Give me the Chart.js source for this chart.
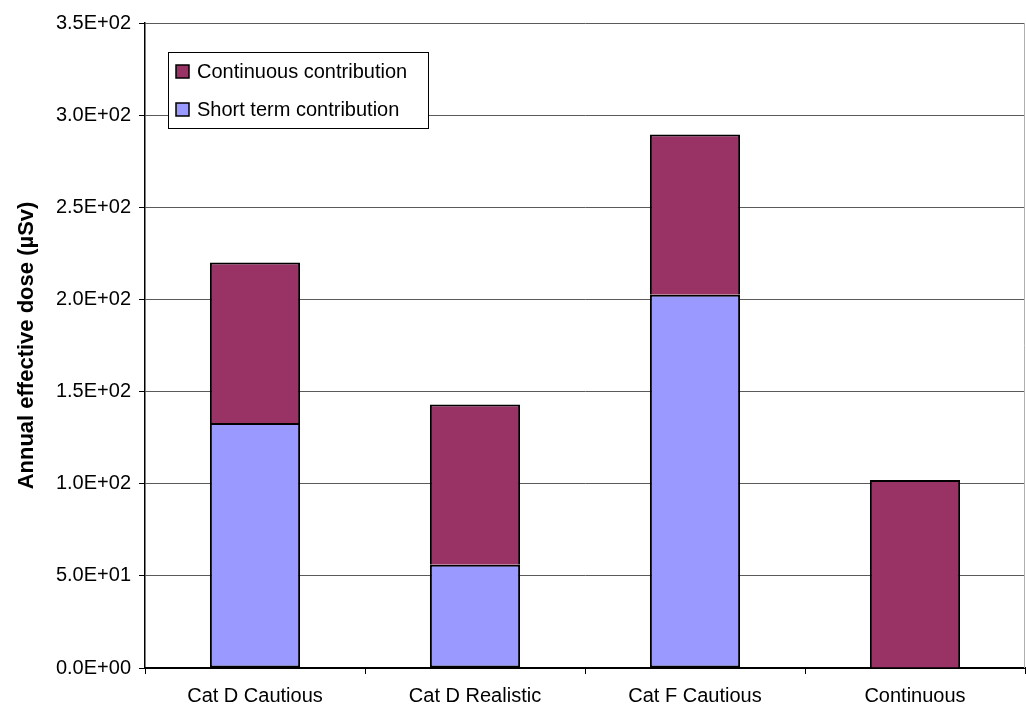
<!DOCTYPE html>
<html>
<head>
<meta charset="utf-8">
<script src="https://cdn.jsdelivr.net/npm/chart.js@4/dist/chart.umd.min.js"></script>
<style>
  html, body { margin: 0; padding: 0; background: #fff; }
  #wrap { width: 1026px; height: 714px; position: relative; }
</style>
</head>
<body>
<div id="wrap"><canvas id="doseChart"></canvas></div>
<script>
const categories = ["Cat D Cautious", "Cat D Realistic", "Cat F Cautious", "Continuous"];
const shortTerm = [133, 56, 202.5, null];
const continuousPart = [87, 87, 87, 102];
const yTicksMax = 350;
const yTickStep = 50;

// Excel style 3.5E+02
function sciLabel(v) {
  const parts = Number(v).toExponential(1).split("e");
  const n = parseInt(parts[1]);
  return parts[0] + "E" + (n < 0 ? "-" : "+") + String(Math.abs(n)).padStart(2, "0");
}

const boxLegend = {
  id: "boxLegend",
  afterDraw(chart) {
    const ctx = chart.ctx;
    const area = chart.chartArea;

    // faint right border of the plot area
    ctx.save();
    ctx.strokeStyle = "#b0b0b0";
    ctx.lineWidth = 1;
    ctx.beginPath();
    ctx.moveTo(area.right - 0.5, area.top);
    ctx.lineTo(area.right - 0.5, area.bottom);
    ctx.stroke();

    const x = area.left + 23;
    const y = area.top + 29;
    ctx.fillStyle = "#fff";
    ctx.fillRect(x, y, 260, 76);
    ctx.strokeStyle = "#000";
    ctx.strokeRect(x + 0.5, y + 0.5, 260, 76);

    const items = [chart.data.datasets[1], chart.data.datasets[0]];
    ctx.font = "20px 'Liberation Sans', Arial, sans-serif";
    ctx.textBaseline = "middle";
    items.forEach((ds, i) => {
      const cy = y + 19 + i * 38;
      ctx.fillStyle = ds.backgroundColor;
      ctx.fillRect(x + 8, cy - 6, 13, 13);
      ctx.strokeStyle = "#000";
      ctx.lineWidth = 1.5;
      ctx.strokeRect(x + 8, cy - 6, 13, 13);
      ctx.fillStyle = "#000";
      ctx.fillText(ds.label, x + 29, cy + 1);
    });
    ctx.restore();
  }
};

const ctx = document.getElementById("doseChart").getContext("2d");
new Chart(ctx, {
  type: "bar",
  data: {
    labels: categories,
    datasets: [
      {
        label: "Short term contribution",
        data: shortTerm,
        backgroundColor: "#9999FF",
        borderColor: "#000",
        borderWidth: 2,
        borderSkipped: false,
        categoryPercentage: 1,
        barPercentage: 0.41,
      },
      {
        label: "Continuous contribution",
        data: continuousPart,
        backgroundColor: "#993366",
        borderColor: "#000",
        borderWidth: 2,
        borderSkipped: "bottom",
        categoryPercentage: 1,
        barPercentage: 0.41,
      },
    ],
  },
  options: {
    responsive: true,
    maintainAspectRatio: false,
    animation: false,
    layout: { padding: { left: 0, right: 1, top: 23, bottom: 0 } },
    plugins: {
      legend: { display: false },
      tooltip: { enabled: false },
    },
    scales: {
      x: {
        stacked: true,
        grid: {
          drawOnChartArea: false,
          drawTicks: true,
          tickLength: 6,
          color: "#000",
        },
        border: { color: "#000", width: 2 },
        ticks: {
          color: "#000",
          padding: 10,
          font: { family: "'Liberation Sans', Arial, sans-serif", size: 20 },
        },
        afterFit(scale) { scale.height = 46; },
      },
      y: {
        stacked: true,
        min: 0,
        max: yTicksMax,
        grid: {
          color: "#5a5a5a",
          lineWidth: 1,
          tickLength: 6,
          tickColor: "#000",
        },
        border: { color: "#000", width: 1.5 },
        ticks: {
          stepSize: yTickStep,
          color: "#000",
          padding: 8,
          font: { family: "'Liberation Sans', Arial, sans-serif", size: 20 },
          callback: (v) => sciLabel(v),
        },
        title: {
          display: true,
          text: "Annual effective dose (µSv)",
          color: "#000",
          padding: { top: 14, bottom: 8 },
          font: { family: "'Liberation Sans', Arial, sans-serif", size: 22, weight: "bold" },
        },
        afterFit(scale) { scale.width = 145; },
      },
    },
  },
  plugins: [boxLegend],
});
</script>
</body>
</html>
